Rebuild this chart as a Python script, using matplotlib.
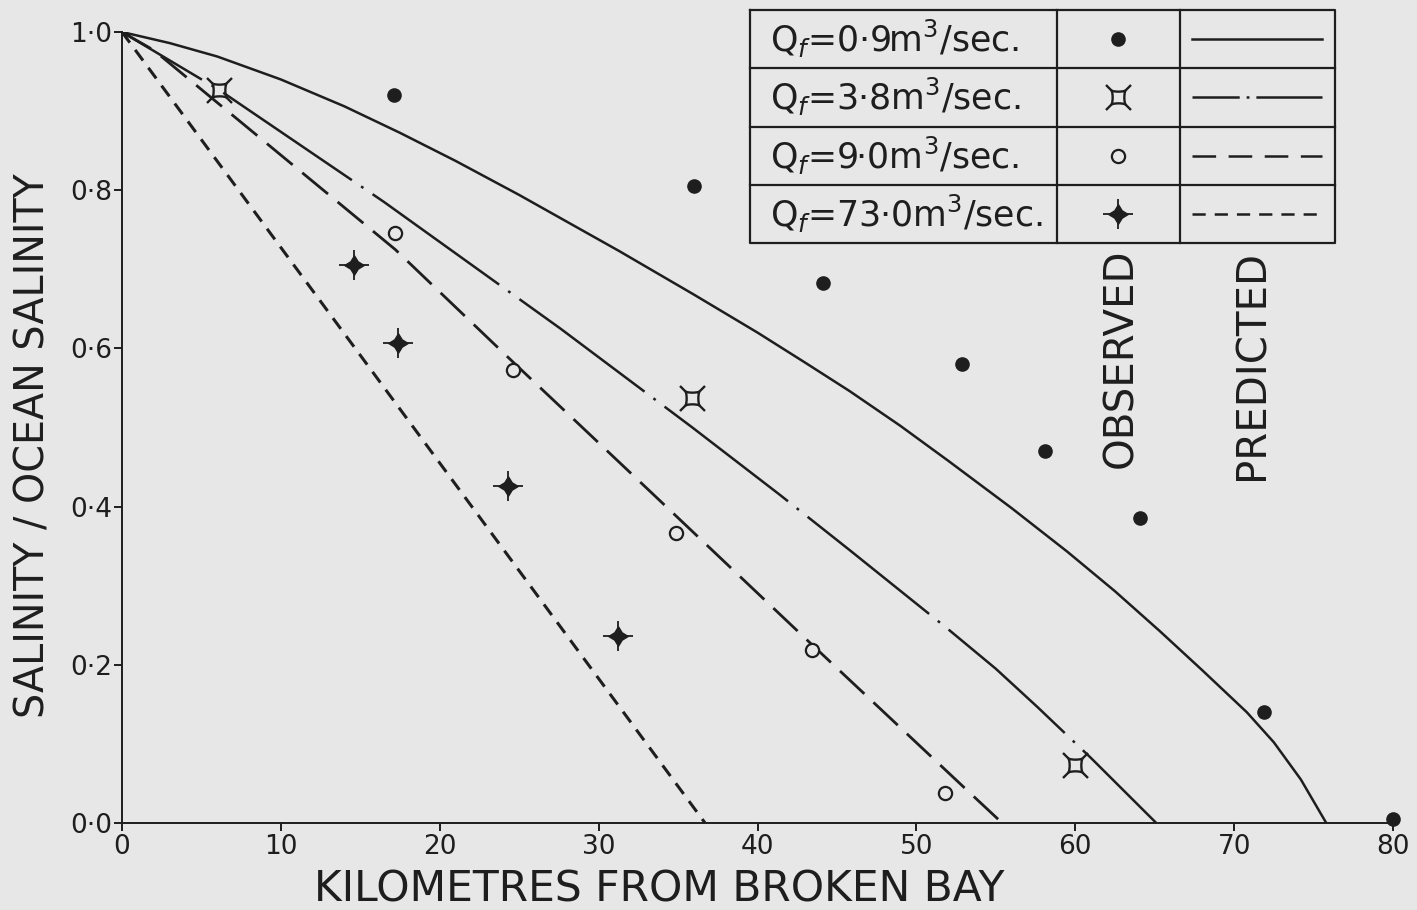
import numpy as np
import matplotlib
matplotlib.use("Agg")
import matplotlib.pyplot as plt
from matplotlib.path import Path

plt.rcParams['font.family'] = ['DejaVu Sans']
plt.rcParams['lines.scale_dashes'] = False
plt.rcParams['mathtext.fontset'] = 'dejavusans'

# observed points
obs_x_09 = [17.1, 36.0, 44.1, 52.9, 58.1, 64.1, 71.9, 80.0]
obs_y_09 = [0.92, 0.805, 0.683, 0.58, 0.47, 0.385, 0.14, 0.005]
obs_x_38 = [6.1, 35.9, 60.0]
obs_y_38 = [0.927, 0.537, 0.073]
obs_x_90 = [17.2, 24.6, 34.9, 43.4, 51.8]
obs_y_90 = [0.746, 0.573, 0.367, 0.219, 0.038]
obs_x_73 = [14.6, 17.4, 24.3, 31.2]
obs_y_73 = [0.705, 0.607, 0.426, 0.236]

# predicted curves
pred_x_09 = [0, 3, 6, 10, 14, 17.5, 21, 25, 31.3, 36, 40, 43, 45.8, 49, 52, 56, 59.5,
             62.5, 65.3, 68, 70.8, 72.5, 74.2, 75.8]
pred_y_09 = [1.0, 0.986, 0.969, 0.94, 0.906, 0.8725, 0.837, 0.794, 0.723, 0.668, 0.62,
             0.582, 0.546, 0.502, 0.458, 0.398, 0.343, 0.293, 0.243, 0.193, 0.14, 0.102,
             0.055, 0.0]
pred_x_38 = [0, 6.1, 16.5, 27.6, 35.9, 41.4, 45.8, 52, 55, 57.6, 61, 65.1]
pred_y_38 = [1.0, 0.927, 0.785, 0.625, 0.50, 0.415, 0.345, 0.245, 0.195, 0.147, 0.082, 0.0]
pred_x_90 = [0, 2, 17.2, 24.6, 33.2, 43.4, 53, 55.4]
pred_y_90 = [1.0, 0.977, 0.725, 0.583, 0.42, 0.226, 0.045, 0.0]
pred_x_73 = [0, 36.7]
pred_y_73 = [1.0, 0.0]

legend_labels = [r"Q$_f$=0·9m$^3$/sec.", r"Q$_f$=3·8m$^3$/sec.",
                 r"Q$_f$=9·0m$^3$/sec.", r"Q$_f$=73·0m$^3$/sec."]

xticks = [0, 10, 20, 30, 40, 50, 60, 70, 80]
yticks = [0.0, 0.2, 0.4, 0.6, 0.8, 1.0]

bg = '#e7e7e7'
ink = '#1e1e1e'

# custom markers
t = np.linspace(0, 1, 7)
cur_verts = []
cur_codes = []
corners = [(0.4, 0.4), (-0.4, 0.4), (-0.4, -0.4), (0.4, -0.4), (0.4, 0.4)]
# square with slightly concave sides
for k in range(4):
    (xa, ya), (xb, yb) = corners[k], corners[k + 1]
    mx, my = (xa + xb) / 2 * 0.75, (ya + yb) / 2 * 0.75
    for j, s in enumerate(t):
        px = (1 - s) ** 2 * xa + 2 * (1 - s) * s * mx + s ** 2 * xb
        py = (1 - s) ** 2 * ya + 2 * (1 - s) * s * my + s ** 2 * yb
        if k == 0 and j == 0:
            cur_verts.append((px, py))
            cur_codes.append(Path.MOVETO)
        elif j > 0:
            cur_verts.append((px, py))
            cur_codes.append(Path.LINETO)
for sx, sy in [(1, 1), (1, -1), (-1, 1), (-1, -1)]:
    cur_verts += [(0.4 * sx, 0.4 * sy), (0.75 * sx, 0.75 * sy)]
    cur_codes += [Path.MOVETO, Path.LINETO]
currency = Path(cur_verts, cur_codes)

star = Path([(0, 1), (0.38, 0.38), (1, 0), (0.38, -0.38), (0, -1),
             (-0.38, -0.38), (-1, 0), (-0.38, 0.38), (0, 1)])

fig = plt.figure(figsize=(14.17, 9.10), dpi=100, facecolor=bg)
ax = fig.add_axes([122 / 1417, 87 / 910, 1271 / 1417, 791 / 910])
ax.set_facecolor(bg)

lw = 1.8
ax.plot(pred_x_09, pred_y_09, color=ink, lw=lw, solid_capstyle='butt')
ax.plot(pred_x_38, pred_y_38, color=ink, lw=lw, ls=(45, (112, 8, 2, 8)), dash_capstyle='butt')
ax.plot(pred_x_90, pred_y_90, color=ink, lw=2.0, dashes=(24, 9))
ax.plot(pred_x_73, pred_y_73, color=ink, lw=2.2, dashes=(9.5, 6.5))


def draw_obs(a, x, y, kind):
    if kind == 0:
        a.plot(x, y, 'o', color=ink, ms=9.5, ls='none', clip_on=False, zorder=5)
    elif kind == 1:
        a.plot(x, y, ls='none', marker=currency, ms=18, mfc='none', mec=ink, mew=1.7,
               clip_on=False, zorder=5)
    elif kind == 2:
        a.plot(x, y, 'o', ms=9.5, mfc=bg, mec=ink, mew=1.6, ls='none', clip_on=False, zorder=5)
    else:
        a.plot(x, y, ls='none', marker='+', ms=22, mew=1.3, color=ink, clip_on=False, zorder=5)
        a.plot(x, y, ls='none', marker=star, ms=14, color=ink, clip_on=False, zorder=6)


draw_obs(ax, obs_x_09, obs_y_09, 0)
draw_obs(ax, obs_x_38, obs_y_38, 1)
draw_obs(ax, obs_x_90, obs_y_90, 2)
draw_obs(ax, obs_x_73, obs_y_73, 3)

ax.set_xlim(0, 80)
ax.set_ylim(0, 1.0)
for s in ['top', 'right']:
    ax.spines[s].set_visible(False)
for s in ['left', 'bottom']:
    ax.spines[s].set_linewidth(1.4)
    ax.spines[s].set_color(ink)
ax.set_xticks(xticks)
ax.set_xticklabels([str(v) for v in xticks])
ax.set_yticks(yticks)
ax.set_yticklabels([f"{v:.1f}".replace('.', '·') for v in yticks])
ax.tick_params(axis='both', colors=ink, width=1.4, length=6, labelsize=19)
ax.tick_params(axis='x', pad=2)
ax.tick_params(axis='y', pad=1)
ax.set_xlabel("KILOMETRES FROM BROKEN BAY", fontsize=30.5, color=ink)
ax.set_ylabel("SALINITY / OCEAN SALINITY", fontsize=28.5, color=ink)
ax.xaxis.set_label_coords((659 - 122) / 1271, -(889 - 823) / 791, transform=ax.transAxes)
ax.xaxis.label.set_va('center')
ax.yaxis.set_label_coords(-(122 - 34) / 1271, (823 - 446) / 791, transform=ax.transAxes)
ax.yaxis.label.set_va('center')

# legend table drawn in pixel coordinates
ov = fig.add_axes([0, 0, 1, 1])
ov.set_xlim(0, 1417)
ov.set_ylim(910, 0)
ov.axis('off')
ov.patch.set_visible(False)

tx0, tx1, ty0, ty1 = 750, 1335, 10, 243
c1, c2 = 1057, 1180
rh = (ty1 - ty0) / 4
box_kw = dict(color=ink, lw=1.6)
ov.plot([tx0, tx1, tx1, tx0, tx0], [ty0, ty0, ty1, ty1, ty0], **box_kw)
ov.plot([c1, c1], [ty0, ty1], **box_kw)
ov.plot([c2, c2], [ty0, ty1], **box_kw)
for i in range(1, 4):
    ov.plot([tx0, tx1], [ty0 + i * rh, ty0 + i * rh], **box_kw)

leg_dashes = [None, (34, 5, 2, 5, 100), (17, 9), (9.5, 6.5)]
for i, lab in enumerate(legend_labels):
    yc = ty0 + (i + 0.5) * rh
    ov.text(770, yc, lab, fontsize=25, color=ink, va='center', ha='left')
    draw_obs(ov, [1118], [yc], i)
    if leg_dashes[i] is None:
        ov.plot([1192, 1322], [yc, yc], color=ink, lw=lw)
    else:
        ov.plot([1192, 1322], [yc, yc], color=ink, lw=lw, dashes=leg_dashes[i])

ov.text(1121, 358, "OBSERVED", rotation=90, fontsize=29, color=ink, ha='center', va='center')
ov.text(1252, 365, "PREDICTED", rotation=90, fontsize=29, color=ink, ha='center', va='center')

fig.savefig("out.png", dpi=100, facecolor=bg)
